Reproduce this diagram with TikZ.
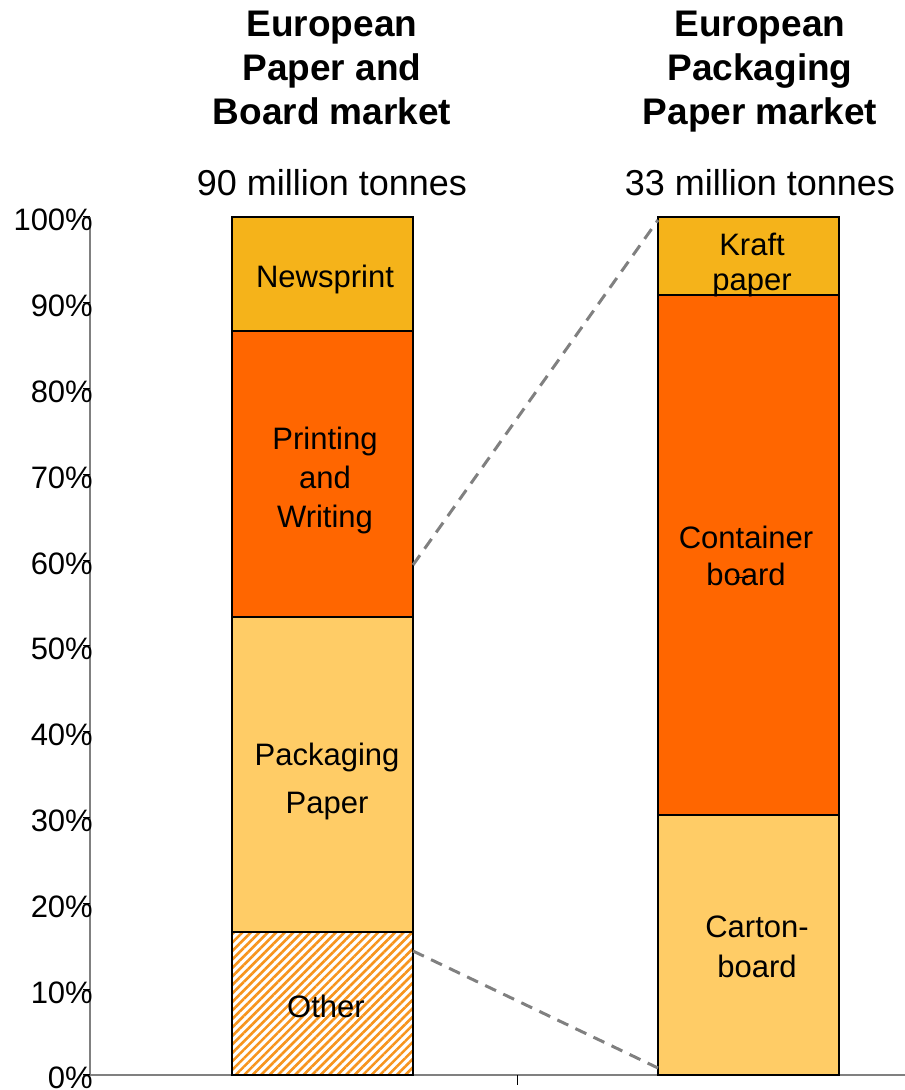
\documentclass[tikz,border=0pt]{standalone}
\usepackage{fontspec}
\setmainfont{Liberation Sans}
\usetikzlibrary{patterns.meta}
\definecolor{newsgold}{HTML}{F5B31A}
\definecolor{printorange}{HTML}{FF6600}
\definecolor{packlight}{HTML}{FFCC66}
\definecolor{hatchorange}{HTML}{F7941D}
\definecolor{axisgray}{HTML}{808080}

\begin{document}
\begin{tikzpicture}[x=1pt,y=-1pt,
  seg/.style={draw=black, line width=2.6pt},
  zoomline/.style={draw=axisgray, line width=3pt, dash pattern=on 12pt off 8pt},
  barlabel/.style={anchor=base, align=center, inner sep=0pt},
  title/.style={anchor=base, align=center, inner sep=0pt, font=\fontsize{37}{44}\selectfont\bfseries},
  tonnes/.style={anchor=base, inner sep=0pt, font=\fontsize{36}{43}\selectfont}]
  \useasboundingbox (0,0) rectangle (905,1090);
  % axes
  \draw[axisgray, line width=1.6pt] (90,217) -- (90,1075);
  \draw[axisgray, line width=1.6pt] (83,1075) -- (905,1075);
  \draw[line width=1pt] (517,1075) -- (517,1085);
  \foreach \p in {0,10,...,100} {
    \pgfmathsetmacro\ty{1074.8-8.58*\p}
    \draw[line width=1pt] (83,\ty) -- (90,\ty);
    \node[anchor=base east, inner sep=0pt, font=\fontsize{31}{37}\selectfont] (ylab\p) at (93,\ty+14) {\p\%};
  }
  % left bar
  \draw[seg, fill=white] (232,932) rectangle (413,1075);
  \path[pattern={Lines[angle=45,distance=6pt,line width=2.6pt]}, pattern color=hatchorange] (233,933) rectangle (412,1074);
  \draw[seg] (232,932) rectangle (413,1075);
  \draw[seg, fill=packlight] (232,617) rectangle (413,932);
  \draw[seg, fill=printorange] (232,331) rectangle (413,617);
  \draw[seg, fill=newsgold] (232,217) rectangle (413,331);
  % right bar
  \draw[seg, fill=packlight] (658,815) rectangle (839,1075);
  \draw[seg, fill=printorange] (658,295) rectangle (839,815);
  \draw[seg, fill=newsgold] (658,217) rectangle (839,295);
  % labels (base = last line)
  \node[barlabel, font=\fontsize{31}{37}\selectfont] (newsprint) at (325,287) {Newsprint};
  \node[barlabel, font=\fontsize{31}{39}\selectfont] (printing) at (325,527) {Printing\\and\\Writing};
  \node[barlabel, font=\fontsize{31}{48}\selectfont] (packaging) at (327,813) {Packaging\\Paper};
  \node[barlabel, font=\fontsize{31}{37}\selectfont] (other) at (326,1017) {Other};
  \node[barlabel, font=\fontsize{31}{35}\selectfont] (kraft) at (752,290) {Kraft\\paper};
  \node[barlabel, font=\fontsize{31}{37}\selectfont] (container) at (746,585) {Container\\board};
  \draw[line width=1pt] (735,577) -- (748,577);
  \node[barlabel, font=\fontsize{31}{40}\selectfont] (carton) at (757,977) {Carton-\\board};
  % titles
  \node[title] (lefttitle) at (332,124) {European\\Paper and\\Board market};
  \node[title] (righttitle) at (760,124) {European\\Packaging\\Paper market};
  \node[tonnes] (lefttonnes) at (332,195) {90 million tonnes};
  \node[tonnes] (righttonnes) at (760,195) {33 million tonnes};
  % zoom lines
  \coordinate (pwcut) at (413,565);
  \coordinate (krafttop) at (658,220);
  \coordinate (othercut) at (413,951);
  \coordinate (cartonbot) at (658,1068);
  \draw[zoomline] (pwcut) -- (krafttop);
  \draw[zoomline] (othercut) -- (cartonbot);
\end{tikzpicture}
\end{document}
